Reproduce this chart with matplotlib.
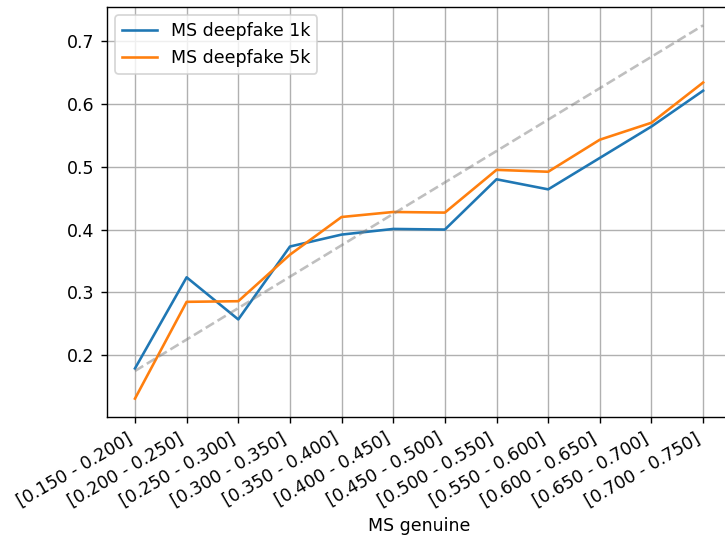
import matplotlib
matplotlib.use("Agg")
import matplotlib.pyplot as plt
import numpy as np

bins = ["[0.150 - 0.200]", "[0.200 - 0.250]", "[0.250 - 0.300]", "[0.300 - 0.350]",
        "[0.350 - 0.400]", "[0.400 - 0.450]", "[0.450 - 0.500]", "[0.500 - 0.550]",
        "[0.550 - 0.600]", "[0.600 - 0.650]", "[0.650 - 0.700]", "[0.700 - 0.750]"]
ms_1k = [0.179, 0.324, 0.257, 0.373, 0.392, 0.401, 0.400, 0.480, 0.464, 0.514, 0.564, 0.621]
ms_5k = [0.131, 0.285, 0.286, 0.360, 0.420, 0.428, 0.427, 0.495, 0.492, 0.543, 0.570, 0.634]
bin_mid = [0.175, 0.225, 0.275, 0.325, 0.375, 0.425, 0.475, 0.525, 0.575, 0.625, 0.675, 0.725]

fig = plt.figure(figsize=(5.8, 4.304), dpi=125)
ax = fig.add_axes([0.147, 0.2244, 0.862, 0.7632])

x = np.arange(len(bins))
ax.plot(x, ms_1k, label="MS deepfake 1k")
ax.plot(x, ms_5k, label="MS deepfake 5k")
ax.plot(x, bin_mid, linestyle="--", color="gray", alpha=0.5)

ax.set_xticks(x)
ax.set_xticklabels(bins, rotation=30, ha="right")
ax.set_xlabel("MS genuine")
ax.grid(True)
ax.legend(loc="upper left")

fig.savefig("out.png", dpi=125)
